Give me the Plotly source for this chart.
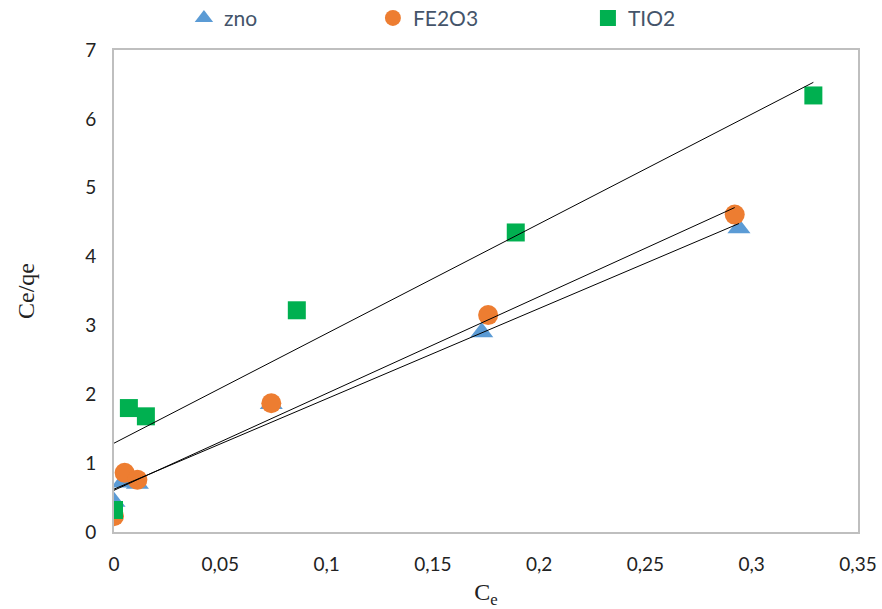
import numpy as np
import plotly.graph_objects as go

# Data
zno_x = [0.0, 0.004, 0.011, 0.074, 0.173, 0.294]
zno_y = [0.44, 0.72, 0.70, 1.86, 2.90, 4.41]

fe_x = [0.0, 0.005, 0.011, 0.074, 0.176, 0.292]
fe_y = [0.23, 0.86, 0.76, 1.87, 3.15, 4.61]

ti_x = [0.0, 0.007, 0.015, 0.086, 0.189, 0.329]
ti_y = [0.32, 1.80, 1.68, 3.22, 4.35, 6.34]

series = [
    ("zno", zno_x, zno_y, "#5B9BD5", "triangle-up", "legend", 0.094),
    ("FE2O3", fe_x, fe_y, "#ED7D31", "circle", "legend2", 0.348),
    ("TIO2", ti_x, ti_y, "#00B050", "square", "legend3", 0.637),
]

fig = go.Figure()
for name, xs, ys, col, sym, lg, lx in series:
    fig.add_trace(go.Scatter(
        x=xs, y=ys, mode="markers", name=name, legend=lg,
        marker=dict(color=col, symbol=sym, size=20 if sym != "square" else 18,
                    line=dict(width=0)),
    ))

# linear trendlines (least squares), drawn over the markers
for name, xs, ys, col, sym, lg, lx in series:
    m, b = np.polyfit(xs, ys, 1)
    xl = np.array([min(xs), max(xs)])
    fig.add_trace(go.Scatter(
        x=xl, y=m * xl + b, mode="lines", showlegend=False,
        line=dict(color="black", width=1), hoverinfo="skip",
    ))

legfont = dict(family="Lato, Open Sans, sans-serif", size=21, color="#44546A")
leg_common = dict(orientation="h", yref="container", yanchor="middle", y=0.970,
                  xanchor="left", font=legfont, bgcolor="rgba(0,0,0,0)", itemwidth=30)

tickfont = dict(family="Lato, Open Sans, sans-serif", size=19, color="#222222")
titlefont = dict(family="Liberation Serif, Times New Roman, serif", size=24, color="#222222")

fig.update_layout(
    width=882, height=609,
    margin=dict(l=114, r=24, t=50, b=77, autoexpand=False),
    paper_bgcolor="white", plot_bgcolor="white",
    separators=", ",
    legend=dict(**leg_common, x=series[0][6]),
    legend2=dict(**leg_common, x=series[1][6]),
    legend3=dict(**leg_common, x=series[2][6]),
    xaxis=dict(
        range=[0, 0.35], dtick=0.05, tick0=0, showgrid=False, zeroline=False,
        showline=True, linecolor="#BFBFBF", linewidth=2, mirror=True,
        ticks="", ticklabelstandoff=14, tickformat="~g", tickfont=tickfont,
        title=dict(text="C<sub>e</sub>", standoff=10, font=titlefont),
    ),
    yaxis=dict(
        range=[0, 7], dtick=1, showgrid=False, zeroline=False,
        showline=True, linecolor="#BFBFBF", linewidth=2, mirror=True,
        ticks="", ticklabelstandoff=12, tickfont=tickfont,
        title=dict(text="Ce/qe", standoff=44, font=titlefont),
    ),
)

fig.write_html("out.html")
